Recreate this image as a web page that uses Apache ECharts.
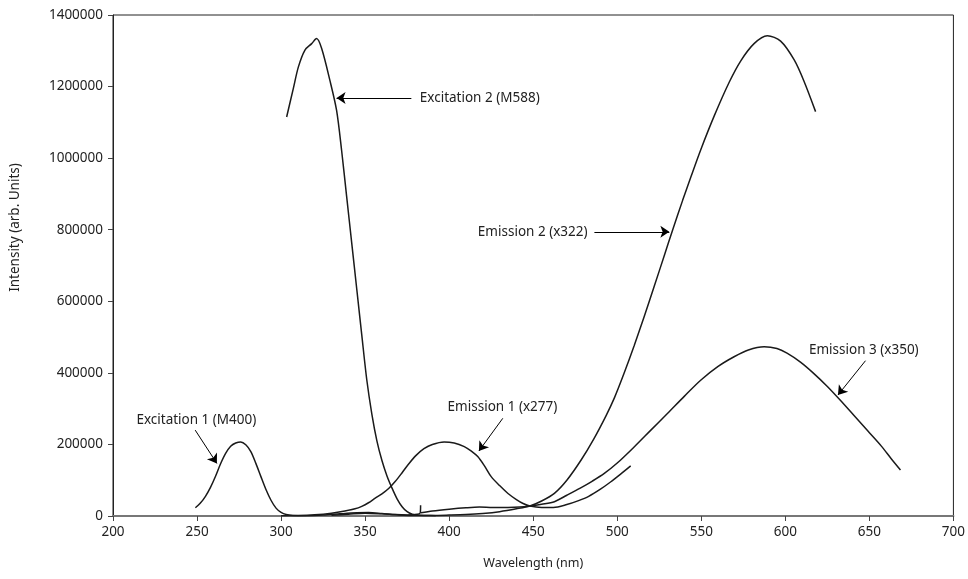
<!DOCTYPE html>
<html>
<head>
<meta charset="utf-8">
<script src="https://cdn.jsdelivr.net/npm/echarts@6/dist/echarts.min.js"></script>
<style>
  html, body { margin: 0; padding: 0; background: #fff; }
  #chart { width: 968px; height: 579px; }
</style>
</head>
<body>
<div id="chart"></div>
<script>
// Fluorescence spectra: wavelength (nm) and intensity (arb. units)
const xTicks = [200, 250, 300, 350, 400, 450, 500, 550, 600, 650, 700];
const yTicks = [0, 200000, 400000, 600000, 800000, 1000000, 1200000, 1400000];

// Excitation 1, monitored at 400 nm
const ex1Wl = [249, 252, 255, 258, 261, 264, 267, 270, 273, 276, 279, 282, 285, 288, 291, 294, 297, 300, 303, 307, 315, 325, 335, 345, 352, 360, 368, 375, 381, 382.8, 383];
const ex1Int = [23000, 36000, 55000, 80000, 111000, 146000, 175000, 195000, 204000, 207000, 199000, 180000, 147000, 110000, 74000, 44000, 22000, 10000, 4000, 1500, 1000, 2500, 6000, 9000, 9500, 7000, 4000, 3000, 5000, 9000, 30000];

// Excitation 2, monitored at 588 nm
const ex2Wl = [303.3, 307.3, 310.3, 314.2, 318.2, 321.1, 324.1, 329, 333, 336, 339, 342, 345, 348, 351, 354, 357, 360, 363, 366, 369, 372, 375, 378, 381, 386, 392];
const ex2Int = [1115000, 1195000, 1255000, 1302000, 1320000, 1334000, 1307000, 1218000, 1134000, 1022000, 893000, 764000, 635000, 506000, 380000, 285000, 210000, 155000, 112000, 78000, 48000, 26000, 12000, 5000, 2500, 1500, 800];

// Emission 1, excited at 277 nm
const em1Wl = [300, 310, 320, 330, 338, 344, 348, 352, 356, 360, 364, 368, 372, 376, 380, 385, 390, 397, 403, 409, 413, 417, 421, 425, 430, 435, 440, 444, 448, 455, 462, 470, 477, 483, 490, 496, 502, 508];
const em1Int = [1000, 1500, 3500, 8000, 14000, 20000, 27000, 37000, 50000, 62000, 77000, 97000, 121000, 146000, 168000, 188000, 200000, 207000, 204000, 194000, 182000, 166000, 140000, 110000, 85000, 63000, 46000, 35000, 28000, 24000, 24000, 32000, 43000, 55000, 75000, 95000, 117000, 140000];

// Emission 2, excited at 322 nm
const em2Wl = [330, 340, 350, 360, 370, 380, 390, 400, 410, 420, 430, 440, 448, 455, 462.6, 470, 478.5, 486, 493.3, 498.3, 504, 510, 516, 522, 528, 533, 538.9, 544, 549.8, 557.7, 566.6, 573.5, 581.4, 589.3, 597.2, 605.2, 611.1, 618];
const em2Int = [2000, 5000, 8000, 6000, 3000, 1500, 1500, 2500, 4000, 7000, 12000, 20000, 28000, 42000, 63400, 100000, 156500, 215000, 280000, 330000, 398000, 475000, 557000, 642000, 728000, 800000, 882000, 950000, 1025000, 1118000, 1212000, 1272000, 1320000, 1342000, 1327000, 1275000, 1215000, 1130000];

// Emission 3, excited at 350 nm
const em3Wl = [383.2, 390, 400, 410, 418, 426, 435, 442, 448, 455, 462.6, 470, 478, 485, 492.3, 500, 510.2, 520, 530, 540, 549.8, 560, 569.5, 578, 587.4, 595, 601, 609, 617, 625, 633, 641, 649, 657, 663, 668.5];
const em3Int = [9000, 14000, 19000, 23000, 25000, 24000, 24000, 25000, 28000, 33000, 40000, 58000, 78000, 97000, 119000, 148000, 193600, 240000, 287000, 335000, 380000, 418000, 445000, 464000, 473000, 468000, 455000, 430000, 398000, 362000, 322000, 280000, 238000, 196000, 160000, 128500];

// Annotation texts, their anchor points and arrows (all in data units)
const labelTexts = ['Excitation 1 (M400)', 'Excitation 2 (M588)', 'Emission 1 (x277)', 'Emission 2 (x322)', 'Emission 3 (x350)'];
const labelAnchors = [[249.6, 268000], [418.2, 1168000], [431.7, 305400], [449.7, 794000], [646.7, 463800]];
const arrowFrom = [[248.9, 240000], [377.5, 1168000], [431.9, 273000], [486.4, 794000], [647.7, 434000]];
const arrowTo = [[261.8, 147000], [333, 1168000], [417.7, 181600], [531, 794000], [631.3, 338000]];

const FONT = '"Noto Sans", sans-serif';
const LINE = '#1a1a1a';

function pairs(wl, val) {
  return wl.map((w, i) => [w, val[i]]);
}

function spectrum(name, wl, val) {
  return {
    name: name,
    type: 'line',
    data: pairs(wl, val),
    smooth: 0.3,
    showSymbol: false,
    symbol: 'none',
    lineStyle: { color: LINE, width: 1.5 },
    z: 3
  };
}

const chart = echarts.init(document.getElementById('chart'), null, { renderer: 'canvas' });

const series = [
  spectrum('Excitation 1', ex1Wl, ex1Int),
  spectrum('Excitation 2', ex2Wl, ex2Int),
  spectrum('Emission 1', em1Wl, em1Int),
  spectrum('Emission 2', em2Wl, em2Int),
  spectrum('Emission 3', em3Wl, em3Int),
  {
    name: 'notes',
    type: 'scatter',
    data: [],
    silent: true,
    markLine: {
      silent: true,
      animation: false,
      symbol: ['none', 'arrow'],
      symbolSize: 9,
      label: { show: false },
      lineStyle: { color: '#000', width: 1, type: 'solid' },
      emphasis: { disabled: true },
      data: arrowFrom.map((p, i) => [{ coord: p }, { coord: arrowTo[i] }])
    },
    markPoint: {
      silent: true,
      animation: false,
      symbol: 'circle',
      symbolSize: 0,
      label: {
        show: true,
        position: 'inside',
        color: '#222',
        fontFamily: FONT,
        fontSize: 13.5
      },
      data: labelAnchors.map((p, i) => ({
        coord: p,
        value: labelTexts[i],
        label: { formatter: labelTexts[i] }
      }))
    }
  }
];

chart.setOption({
  animation: false,
  backgroundColor: '#fff',
  textStyle: { fontFamily: FONT },
  grid: {
    left: 111, right: 14, top: 15, bottom: 63,
    show: true,
    borderColor: '#222',
    borderWidth: 1,
    backgroundColor: 'transparent'
  },
  xAxis: {
    type: 'value',
    min: xTicks[0],
    max: xTicks[xTicks.length - 1],
    interval: 50,
    name: 'Wavelength (nm)',
    nameLocation: 'middle',
    nameGap: 41,
    nameTextStyle: { color: '#222', fontSize: 12.5, fontFamily: FONT },
    axisLine: { show: true, onZero: false, lineStyle: { color: '#777', width: 2 } },
    axisTick: { show: true, inside: false, length: 5, lineStyle: { color: '#444', width: 1 } },
    axisLabel: { color: '#222', fontSize: 13.5, margin: 9, fontFamily: FONT, formatter: v => String(v) },
    splitLine: { show: false }
  },
  yAxis: {
    type: 'value',
    min: yTicks[0],
    max: yTicks[yTicks.length - 1],
    interval: 200000,
    name: 'Intensity (arb. Units)',
    nameLocation: 'middle',
    nameGap: 91,
    nameRotate: 90,
    nameTextStyle: { color: '#222', fontSize: 13.5, fontFamily: FONT, padding: [0, 0, 0, 76] },
    axisLine: { show: true, lineStyle: { color: '#222', width: 1 } },
    axisTick: { show: true, inside: false, length: 5, lineStyle: { color: '#444', width: 1 } },
    axisLabel: { color: '#222', fontSize: 13.5, margin: 10, fontFamily: FONT, formatter: v => String(v) },
    splitLine: { show: false }
  },
  series: series
});
</script>
</body>
</html>
